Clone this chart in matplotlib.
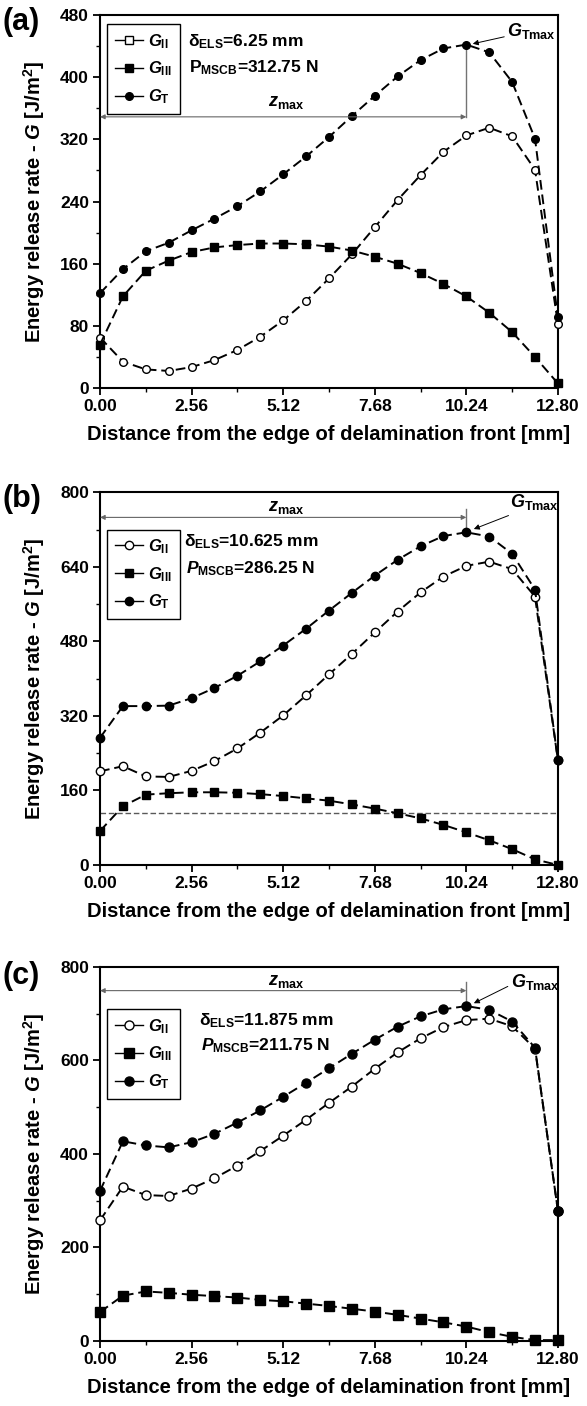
import matplotlib
matplotlib.use('Agg')
import matplotlib.pyplot as plt
from matplotlib.lines import Line2D

plt.rcParams['font.family'] = ['Liberation Sans', 'DejaVu Sans']
plt.rcParams['font.weight'] = 'bold'
plt.rcParams['mathtext.fontset'] = 'custom'
plt.rcParams['mathtext.rm'] = 'Liberation Sans:bold'
plt.rcParams['mathtext.it'] = 'Liberation Sans:italic:bold'
plt.rcParams['mathtext.bf'] = 'Liberation Sans:bold'
plt.rcParams['axes.linewidth'] = 1.5

# distance from the edge of the delamination front [mm]
x = [0.00, 0.64, 1.28, 1.92, 2.56, 3.20, 3.84, 4.48, 5.12, 5.76, 6.40,
     7.04, 7.68, 8.32, 8.96, 9.60, 10.24, 10.88, 11.52, 12.16, 12.80]
xticks = [0.00, 2.56, 5.12, 7.68, 10.24, 12.80]
xminor = [1.28, 3.84, 6.40, 8.96, 11.52]

# panel (a)
gII_a = [65, 34, 24, 22, 27, 36, 49, 66, 87, 112, 141, 172, 207, 242, 274, 304, 325, 335, 324, 281, 83]
gIII_a = [56, 118, 151, 164, 175, 181, 184, 186, 186, 185, 182, 177, 169, 160, 148, 134, 118, 97, 72, 40, 6]
gT_a = [122, 153, 176, 187, 203, 218, 234, 253, 275, 298, 323, 350, 376, 401, 422, 437, 442, 432, 394, 321, 91]
yticks_a = [0, 80, 160, 240, 320, 400, 480]

# panel (b)
gII_b = [201, 212, 190, 189, 202, 223, 250, 284, 321, 364, 409, 453, 499, 544, 585, 619, 642, 651, 635, 576, 225]
gIII_b = [73, 126, 151, 154, 156, 156, 155, 152, 148, 143, 138, 130, 121, 111, 100, 86, 70, 53, 34, 12, 0]
gT_b = [273, 341, 341, 342, 358, 380, 406, 437, 471, 507, 546, 584, 621, 655, 684, 706, 714, 705, 668, 591, 225]
yticks_b = [0, 160, 320, 480, 640, 800]
ref_b = 112

# panel (c)
gII_c = [258, 330, 312, 310, 326, 348, 375, 406, 439, 473, 509, 544, 582, 617, 647, 671, 686, 689, 673, 625, 279]
gIII_c = [62, 97, 106, 103, 99, 96, 93, 88, 85, 80, 75, 69, 63, 56, 48, 40, 31, 19, 9, 2, 2]
gT_c = [321, 427, 418, 414, 425, 443, 467, 493, 522, 552, 583, 614, 644, 672, 694, 709, 716, 708, 683, 627, 279]
yticks_c = [0, 200, 400, 600, 800]

labels = [r'$G_{\rm II}$', r'$G_{\rm III}$', r'$G_{\rm T}$']

fig = plt.figure(figsize=(5.87, 14.06), dpi=100)
ax_a = fig.add_axes([0.1704, 0.7240, 0.780, 0.2653])
ax_b = fig.add_axes([0.1704, 0.3848, 0.780, 0.2651])
ax_c = fig.add_axes([0.1704, 0.0462, 0.780, 0.2662])


def draw_panel(ax, gII, gIII, gT, yticks, ms, leg_marker_II, leg_anchor,
               text_xy, delta_txt, p_txt, zy, zlab_y, vline, gtmax_txt, gtmax_arrow):
    kw = dict(color='black', ls='--', lw=1.4, dashes=(5, 2.5), mec='black', ms=ms, clip_on=False, zorder=3)
    ax.plot(x, gII, marker='o', mfc='white', **kw)
    ax.plot(x, gIII, marker='s', mfc='black', **kw)
    ax.plot(x, gT, marker='o', mfc='black', **kw)

    ax.set_xlim(0, 12.8)
    ax.set_ylim(yticks[0], yticks[-1])
    ax.set_xticks(xticks)
    ax.set_xticklabels(['%.2f' % v for v in xticks])
    ax.set_xticks(xminor, minor=True)
    ax.set_yticks(yticks)
    step = yticks[1] - yticks[0]
    ax.set_yticks([v + step / 2 for v in yticks[:-1]], minor=True)
    ax.tick_params(which='major', direction='out', length=5, width=1.3, labelsize=12.5, pad=3)
    ax.tick_params(which='minor', direction='out', length=3, width=1.0)
    ax.set_xlabel('Distance from the edge of delamination front [mm]', fontsize=14.5, fontweight='bold', labelpad=8)
    ax.set_ylabel('Energy release rate - $G$ [J/m$^2$]', fontsize=14.5, fontweight='bold', labelpad=9)

    handles = [
        Line2D([], [], color='black', lw=1, marker=leg_marker_II, mfc='white', mec='black', ms=ms),
        Line2D([], [], color='black', lw=1, marker='s', mfc='black', mec='black', ms=ms),
        Line2D([], [], color='black', lw=1, marker='o', mfc='black', mec='black', ms=ms),
    ]
    leg = ax.legend(handles, labels, loc='upper left', bbox_to_anchor=leg_anchor, fontsize=12,
                    frameon=True, fancybox=False, edgecolor='black', framealpha=1,
                    handlelength=1.7, handletextpad=0.3, labelspacing=0.55, borderpad=0.45,
                    borderaxespad=0)
    leg.get_frame().set_linewidth(1.0)

    ax.text(text_xy[0], text_xy[1], delta_txt, fontsize=12.5, fontweight='bold', va='center')
    ax.text(text_xy[0] + 0.05, text_xy[2], p_txt, fontsize=12.5, fontweight='bold', va='center')

    # z_max dimension arrow
    ax.annotate('', xy=(0, zy), xytext=(10.24, zy),
                arrowprops=dict(arrowstyle='<|-|>', color='0.4', lw=0.8, shrinkA=0, shrinkB=0,
                                mutation_scale=7))
    ax.plot([10.24, 10.24], vline, color='0.45', lw=1, zorder=2)
    ax.text(5.2, zlab_y, r'$z_{\rm max}$', fontsize=13, ha='center', va='center')

    ax.text(gtmax_txt[0], gtmax_txt[1], r'$G_{\rm Tmax}$', fontsize=13, va='center')
    ax.annotate('', xy=gtmax_arrow[1], xytext=gtmax_arrow[0],
                arrowprops=dict(arrowstyle='-|>', color='black', lw=0.7, shrinkA=0, shrinkB=0,
                                mutation_scale=8))


draw_panel(ax_a, gII_a, gIII_a, gT_a, yticks_a, 5.5, 's', (0.016, 0.975),
           (2.45, 446, 412), 'δ$_{\\rm ELS}$=6.25 mm', r'P$_{\rm MSCB}$=312.75 N',
           349, 367, [349, 442], (11.37, 459), [(11.3, 452), (10.42, 443)])
draw_panel(ax_b, gII_b, gIII_b, gT_b, yticks_b, 6, 'o', (0.016, 0.90),
           (2.34, 694, 637), 'δ$_{\\rm ELS}$=10.625 mm', r'$P_{\rm MSCB}$=286.25 N',
           746, 768, [722, 764], (11.47, 778), [(11.42, 750), (10.45, 721)])
ax_b.plot([0, 12.8], [ref_b, ref_b], color='0.35', ls='--', lw=1, dashes=(4, 2), zorder=1)
draw_panel(ax_c, gII_c, gIII_c, gT_c, yticks_c, 6.5, 'o', (0.016, 0.886),
           (2.76, 684, 631), 'δ$_{\\rm ELS}$=11.875 mm', r'$P_{\rm MSCB}$=211.75 N',
           749, 768, [726, 768], (11.5, 768), [(11.4, 758), (10.45, 722)])

fig.text(0.004, 1 - 22 / 1406, '(a)', fontsize=22, fontweight='bold', va='center')
fig.text(0.004, 1 - 499 / 1406, '(b)', fontsize=22, fontweight='bold', va='center')
fig.text(0.004, 1 - 976 / 1406, '(c)', fontsize=22, fontweight='bold', va='center')

fig.savefig('out.png', dpi=100)
